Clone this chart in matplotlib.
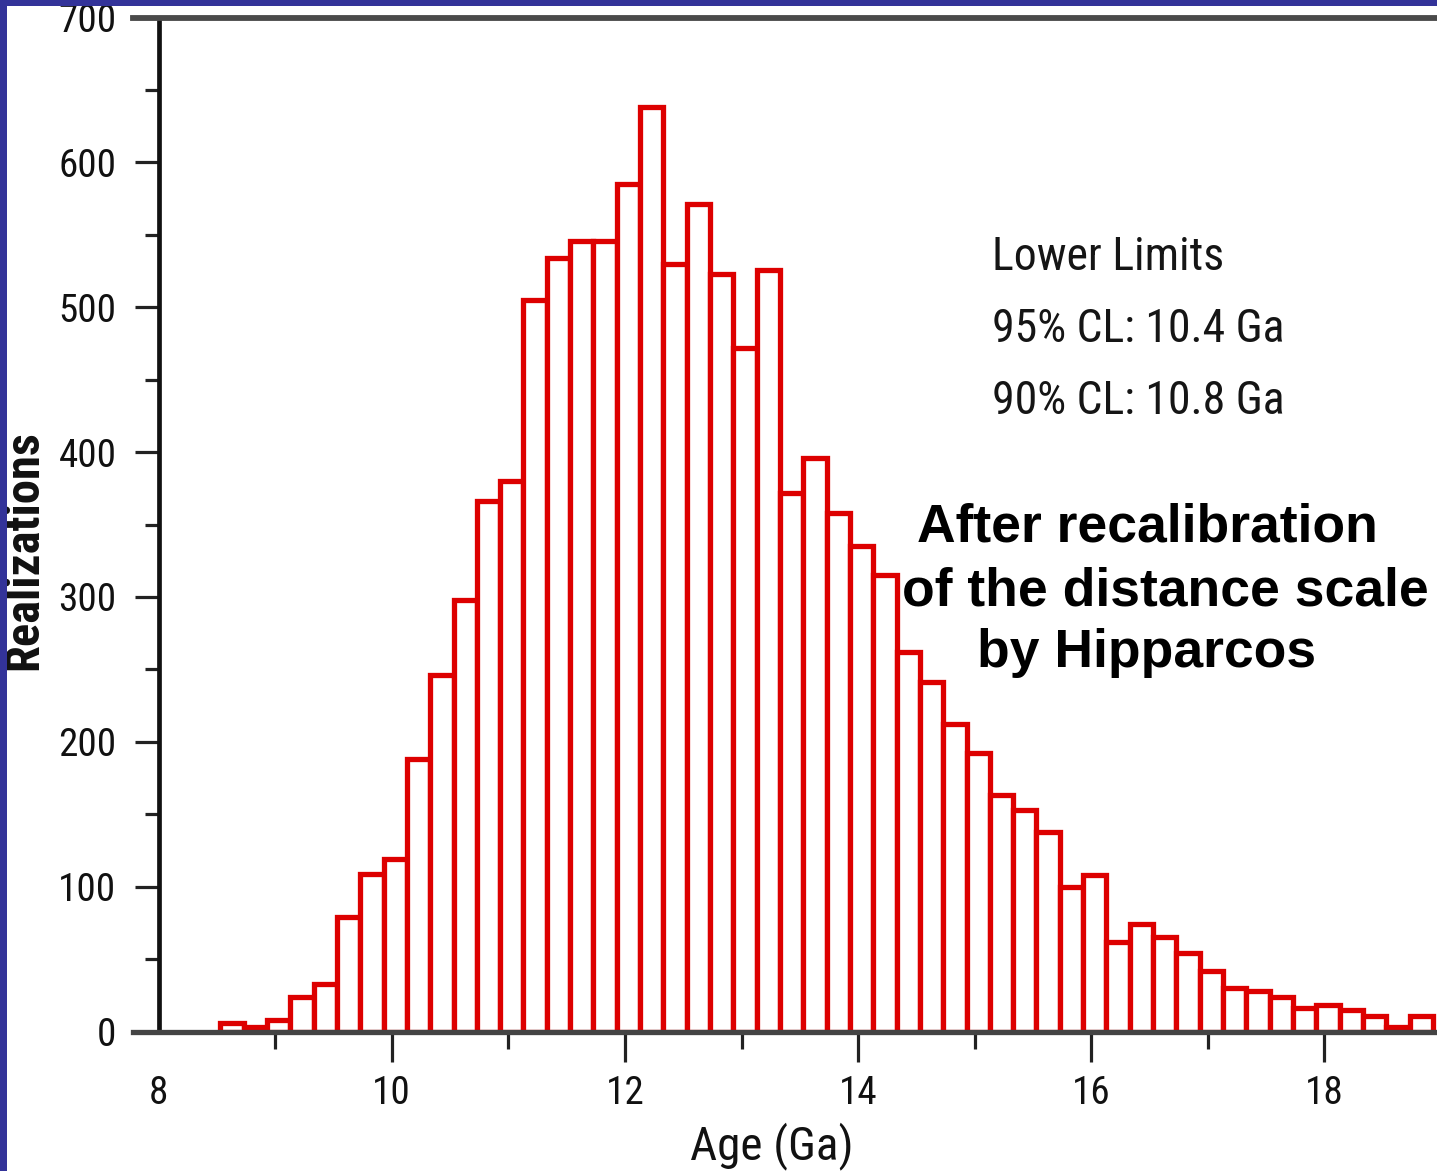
import numpy as np
import matplotlib
matplotlib.use("Agg")
import matplotlib.pyplot as plt
from matplotlib import font_manager as fm
from matplotlib.patches import Rectangle
from matplotlib.ticker import MultipleLocator, FixedLocator

# ---------------- data ----------------
bin_start = 8.53
bin_width = 0.2
counts = [6, 3, 8, 24, 33, 79, 109, 119, 188, 246, 298,
          366, 380, 505, 534, 546, 546, 585, 638, 530, 571,
          523, 472, 526, 372, 396, 358, 335, 315, 262, 241,
          212, 192, 163, 153, 138, 100, 108, 62, 74, 65,
          54, 42, 30, 28, 24, 16, 18, 15, 11, 3, 11]
x_major_ticks = [8, 10, 12, 14, 16, 18]
y_major_ticks = [0, 100, 200, 300, 400, 500, 600, 700]
x_label = "Age (Ga)"
y_label = "Realizations"
limits_lines = ["Lower Limits", "95% CL: 10.4 Ga", "90% CL: 10.8 Ga"]
note_lines = ["After recalibration", "of the distance scale", "by Hipparcos"]

# ---------------- fonts ----------------
names = {f.name for f in fm.fontManager.ttflist}
candidates = [("Liberation Sans Narrow", 1.0), ("Arial Narrow", 1.0),
              ("Roboto Condensed", 0.97), ("Archivo Narrow", 0.97)]
NARROW, nscale = ["Liberation Sans", "DejaVu Sans"], 0.86
for nm, sc in candidates:
    if nm in names:
        NARROW, nscale = [nm, "Liberation Sans", "DejaVu Sans"], sc
        break
plt.rcParams["font.family"] = NARROW

W, H = 1437, 1171
DPI = 100
fig = plt.figure(figsize=(W / DPI, H / DPI), dpi=DPI, facecolor="white")


def fx(px):
    return px / W


def fy(py):
    return 1 - py / H


ax_left_px, ax_right_px = 133, 1437
ax_top_px, ax_bot_px = 17.5, 1031.5
ax = fig.add_axes([fx(ax_left_px), fy(ax_bot_px),
                   (ax_right_px - ax_left_px) / W, (ax_bot_px - ax_top_px) / H])
ax.set_facecolor("white")

edges = bin_start + bin_width * np.arange(len(counts) + 1)
ax.bar(edges[:-1], counts, width=bin_width, align="edge",
       facecolor="white", edgecolor="#dd0000", linewidth=3.8, zorder=2)

ax.set_xlim(7.781, 18.965)
ax.set_ylim(0, 700)

ax.spines["right"].set_visible(False)
ax.spines["left"].set_position(("data", 8))
ax.spines["left"].set_color("#111111")
ax.spines["left"].set_linewidth(3.4)
ax.spines["top"].set_color("#4a4a4a")
ax.spines["top"].set_linewidth(4.2)
ax.spines["bottom"].set_color("#444444")
ax.spines["bottom"].set_linewidth(3.8)
for s in ax.spines.values():
    s.set_zorder(3)

ax.xaxis.set_major_locator(FixedLocator(x_major_ticks))
ax.xaxis.set_minor_locator(FixedLocator([9, 11, 13, 15, 17]))
ax.yaxis.set_major_locator(FixedLocator(y_major_ticks))
ax.yaxis.set_minor_locator(MultipleLocator(50))
ax.set_xticklabels([str(t) for t in x_major_ticks])
ax.set_yticklabels([str(t) for t in y_major_ticks])

ax.tick_params(axis="x", which="major", direction="out", length=21.5, width=2.3,
               color="#222222", pad=10, labelsize=29 * nscale, labelcolor="#111111")
ax.tick_params(axis="x", which="minor", direction="out", length=12, width=2.3,
               color="#222222")
ax.tick_params(axis="y", which="major", direction="out", length=17.3, width=2.3,
               color="#222222", pad=13, labelsize=29 * nscale, labelcolor="#111111")
ax.tick_params(axis="y", which="minor", direction="out", length=10, width=2.3,
               color="#222222")
ax.xaxis.get_major_ticks()[0].tick1line.set_visible(False)

fig.text(fx(771.5), fy(1159.5), x_label, ha="center", va="baseline",
         fontsize=35 * nscale, color="#111111")
fig.text(fx(37), fy(550.5), y_label, rotation=90, rotation_mode="anchor",
         ha="center", va="baseline", fontsize=36 * nscale, fontweight="bold",
         color="#111111")

for line, base in zip(limits_lines, [270, 342, 414]):
    fig.text(fx(992.5), fy(base), line, ha="left", va="baseline",
             fontsize=34 * nscale, color="#151515")

for line, cx, base in zip(note_lines, [1147.5, 1165, 1146.5], [541.7, 605, 666.7]):
    fig.text(fx(cx), fy(base), line, ha="center", va="baseline",
             fontsize=38.5, fontweight="bold", color="black",
             family=["Liberation Sans", "DejaVu Sans"])

blue = "#333399"
fig.patches.append(Rectangle((0, 0), fx(6.7), 1, transform=fig.transFigure,
                             facecolor=blue, edgecolor="none", zorder=10))
fig.patches.append(Rectangle((0, fy(5.7)), 1, fy(0) - fy(5.7), transform=fig.transFigure,
                             facecolor=blue, edgecolor="none", zorder=10))

fig.savefig("out.png", dpi=DPI, facecolor="white")
